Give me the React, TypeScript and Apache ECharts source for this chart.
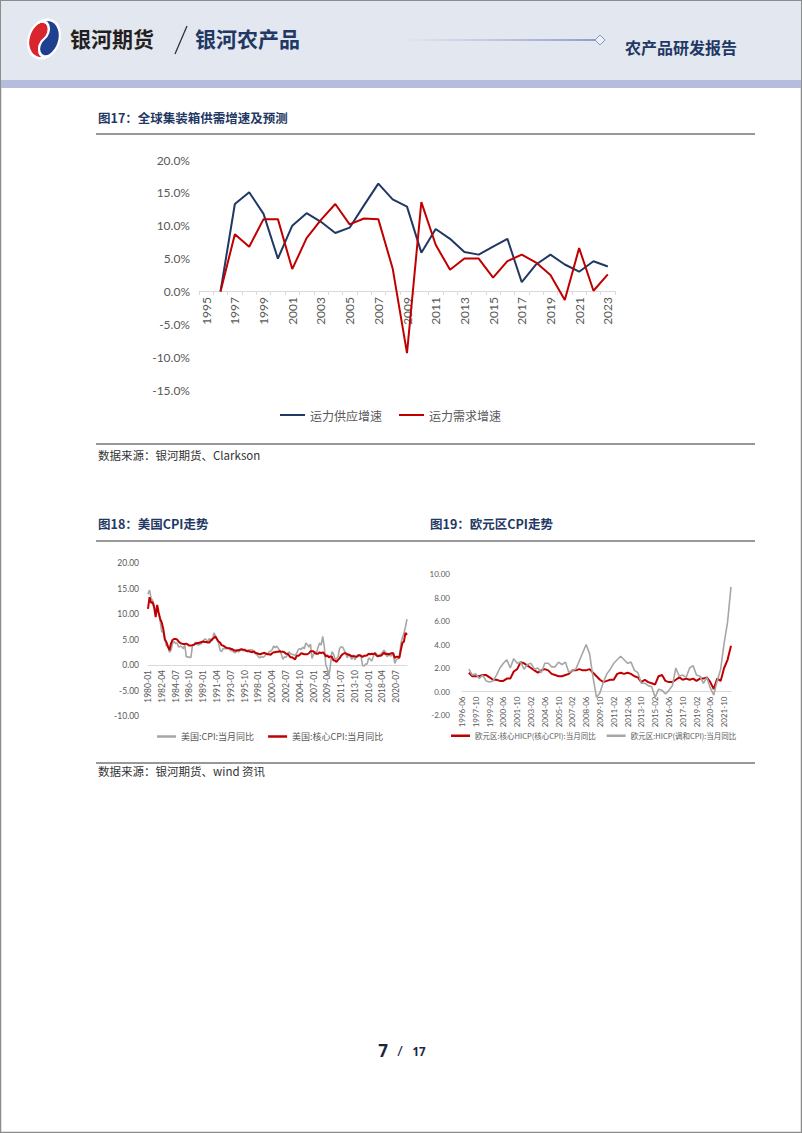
import React, { useEffect, useRef } from "react";
import * as echarts from "echarts";

// ---------- Figure 17: container capacity supply / demand growth (%) ----------
const shipYears = [
  "1995", "1996", "1997", "1998", "1999", "2000", "2001", "2002", "2003", "2004",
  "2005", "2006", "2007", "2008", "2009", "2010", "2011", "2012", "2013", "2014",
  "2015", "2016", "2017", "2018", "2019", "2020", "2021", "2022", "2023",
];
const capacitySupplyGrowth = [
  null, 0, 13.3, 15.1, 11.8, 5.0, 10.0, 11.9, 10.6, 8.9,
  9.7, 13.1, 16.4, 14.0, 12.9, 5.9, 9.5, 8.0, 6.0, 5.6,
  6.8, 8.0, 1.4, 4.1, 5.6, 4.1, 3.0, 4.6, 3.8,
];
const capacityDemandGrowth = [
  null, 0, 8.7, 6.8, 11.0, 11.0, 3.4, 8.1, 10.9, 13.3,
  10.2, 11.1, 11.0, 3.5, -9.4, 13.6, 7.1, 3.3, 5.0, 5.0,
  2.1, 4.6, 5.6, 4.4, 2.5, -1.3, 6.6, 0.1, 2.6,
];

// ---------- Figure 18: US CPI y/y (quarterly readings from 1980-01) ----------
const usCpi = [
  13.9, 14.7, 13.1, 12.6, 11.8, 10.0, 10.8, 10.1, 8.4, 6.5, 6.4, 5.1,
  3.7, 3.9, 2.5, 2.9, 4.2, 4.6, 4.2, 4.3, 3.5, 3.7, 3.6, 3.2,
  3.9, 1.6, 1.6, 1.5, 1.5, 3.8, 3.9, 4.5, 4.0, 3.9, 4.1, 4.2,
  4.7, 5.1, 5.0, 4.5, 5.2, 4.7, 4.8, 6.3, 5.7, 4.9, 4.4, 2.9,
  2.6, 3.2, 3.2, 3.2, 3.3, 3.2, 2.8, 2.8, 2.5, 2.4, 2.8, 2.6,
  2.8, 3.1, 2.8, 2.8, 2.7, 2.9, 3.0, 3.0, 3.0, 2.5, 2.2, 2.1,
  1.6, 1.4, 1.7, 1.5, 1.7, 2.3, 2.1, 2.6, 2.7, 3.0, 3.7, 3.4,
  3.7, 3.3, 2.7, 2.1, 1.1, 1.6, 1.5, 2.0, 2.6, 2.2, 2.1, 2.0,
  1.9, 2.3, 3.0, 3.2, 3.0, 3.5, 3.2, 4.3, 4.0, 3.5, 4.1, 1.3,
  2.1, 2.6, 2.4, 3.5, 4.3, 3.9, 5.6, 3.7, 0.0, -0.7, -2.1, -0.2,
  2.6, 2.2, 1.2, 1.2, 1.6, 3.2, 3.6, 3.5, 2.9, 2.3, 1.4, 2.2,
  1.6, 1.1, 2.0, 1.0, 1.6, 2.0, 2.0, 1.7, -0.1, -0.2, 0.2, 0.2,
  1.4, 1.1, 0.8, 1.6, 2.5, 2.2, 1.7, 2.0, 2.1, 2.5, 2.9, 2.5,
  1.6, 2.0, 1.8, 1.8, 2.5, 0.3, 1.0, 1.2, 1.4, 4.2, 5.4, 6.2,
  7.5, 9.0,
];
const usCoreCpi = [
  11.0, 13.3, 12.2, 12.3, 11.3, 9.4, 11.8, 10.2, 9.0, 8.3, 7.0, 5.0,
  4.5, 3.6, 2.9, 4.2, 4.9, 5.1, 5.1, 5.0, 4.6, 4.3, 4.2, 4.1,
  4.1, 4.2, 4.0, 3.8, 3.8, 3.9, 4.0, 4.2, 4.3, 4.3, 4.4, 4.5,
  4.6, 4.5, 4.5, 4.4, 4.4, 4.8, 5.1, 5.3, 5.6, 5.1, 4.6, 4.4,
  3.9, 3.8, 3.6, 3.4, 3.3, 3.3, 3.2, 3.1, 2.9, 2.8, 2.9, 2.9,
  3.0, 3.1, 3.0, 3.0, 2.8, 2.7, 2.7, 2.6, 2.5, 2.7, 2.4, 2.3,
  2.2, 2.1, 2.2, 2.3, 2.4, 2.2, 2.1, 2.1, 2.0, 2.3, 2.5, 2.5,
  2.6, 2.6, 2.7, 2.6, 2.6, 2.5, 2.2, 2.2, 1.9, 1.5, 1.5, 1.3,
  1.1, 1.8, 1.8, 2.0, 2.3, 2.2, 2.1, 2.1, 2.1, 2.3, 2.7, 2.7,
  2.7, 2.3, 2.2, 2.2, 2.5, 2.3, 2.5, 2.2, 1.7, 1.9, 1.5, 1.7,
  1.6, 0.9, 0.9, 0.6, 1.0, 1.3, 1.8, 2.1, 2.3, 2.3, 2.1, 2.0,
  1.9, 1.7, 1.7, 1.7, 1.6, 1.8, 1.9, 1.8, 1.6, 1.8, 1.8, 1.9,
  2.2, 2.1, 2.2, 2.1, 2.3, 1.9, 1.7, 1.8, 1.8, 2.1, 2.4, 2.1,
  2.2, 2.1, 2.2, 2.3, 2.3, 1.4, 1.6, 1.6, 1.4, 3.0, 4.3, 4.6,
  6.3, 5.9,
];
const usPeriods = usCpi.map(
  (_, i) => `${1980 + Math.floor(i / 4)}-${["01", "04", "07", "10"][i % 4]}`
);

// ---------- Figure 19: Euro area HICP y/y (4-monthly readings from 1996-06) ----------
const euCoreHicp = [
  null, null, 1.6, 1.3, 1.3, 1.3, 1.4, 1.4, 1.2, 1.0,
  1.0, 0.9, 0.9, 1.1, 1.1, 1.7, 1.9, 2.5, 2.4, 2.2,
  2.0, 1.8, 1.6, 1.8, 1.9, 1.8, 1.5, 1.4, 1.3, 1.3,
  1.4, 1.5, 1.8, 1.8, 1.9, 1.8, 1.8, 1.9, 1.6, 1.3,
  1.0, 0.8, 0.9, 1.0, 1.0, 1.5, 1.6, 1.5, 1.6, 1.5,
  1.3, 1.2, 0.8, 1.0, 0.8, 0.7, 0.6, 1.3, 1.4, 0.9,
  0.8, 0.8, 1.0, 1.2, 1.0, 1.1, 1.0, 1.1, 0.9, 1.1,
  1.1, 1.2, 0.8, 0.2, 1.1, 0.9, 2.0, 2.7, 3.9,
];
const euHicp = [
  null, null, 1.9, 1.4, 1.5, 1.1, 1.4, 0.9, 0.8, 0.9,
  1.4, 2.0, 2.4, 2.7, 2.0, 2.8, 2.4, 2.5, 1.9, 2.3,
  2.4, 1.9, 2.0, 1.6, 2.4, 2.4, 2.1, 2.1, 2.5, 2.3,
  2.5, 1.6, 1.8, 1.9, 2.6, 3.3, 4.0, 3.2, 1.2, -0.5,
  -0.1, 0.8, 1.5, 1.9, 2.4, 2.7, 3.0, 2.7, 2.4, 2.5,
  1.8, 1.6, 0.7, 0.7, 0.5, 0.4, -0.5, 0.2, 0.1, -0.2,
  0.1, 0.5, 2.0, 1.3, 1.4, 1.2, 2.0, 2.2, 1.4, 1.3,
  0.7, 1.2, 0.3, -0.3, 0.9, 1.9, 4.1, 5.9, 8.9,
];
const euPeriods = euHicp.map((_, i) => {
  const t = 1996 * 12 + 5 + i * 4;
  return `${Math.floor(t / 12)}-${String((t % 12) + 1).padStart(2, "0")}`;
});

const NAVY = "#1f3864";
const RED = "#c00000";
const GREY = "#a6a6a6";
const LABEL = "#595959";
const CJK = "'Noto Sans CJK SC', sans-serif";
const NUM = "Lato, 'Noto Sans CJK SC', sans-serif";

const RED_LOGO =
  "M0 -50 A50 50 0 0 0 0 50 A25 25 0 0 1 0 0 A25 25 0 0 0 0 -50 Z";
const BLUE_LOGO =
  "M0 -50 A50 50 0 0 1 0 50 A25 25 0 0 1 0 0 A25 25 0 0 0 0 -50 Z";

let registered = false;
function registerShapes() {
  if (registered) return;
  registered = true;
  echarts.graphic.registerShape("logoRed", echarts.graphic.extendPath(RED_LOGO, {}) as any);
  echarts.graphic.registerShape("logoBlue", echarts.graphic.extendPath(BLUE_LOGO, {}) as any);
}

function text(x: number, y: number, t: string, size: number, color: string, weight: any = "normal", family = CJK, align = "left") {
  return {
    type: "text",
    x,
    y,
    silent: true,
    style: {
      text: t,
      fontSize: size,
      fontWeight: weight,
      fontFamily: family,
      fill: color,
      align,
      verticalAlign: "middle",
    },
  };
}

function hline(y: number, x1 = 96, x2 = 755, color = "#333333", w = 1) {
  return {
    type: "line",
    silent: true,
    shape: { x1, y1: y, x2, y2: y },
    style: { stroke: color, lineWidth: w },
  };
}

const smallAxisLabel = { color: LABEL, fontSize: 8.5, fontFamily: NUM };

export default function App() {
  const ref = useRef<HTMLDivElement>(null);

  useEffect(() => {
    document.body.style.margin = "0";
    registerShapes();
    const chart = echarts.init(ref.current!, undefined, { renderer: "svg" });

    const graphicElements: any[] = [
      // page frame
      {
        type: "rect",
        silent: true,
        shape: { x: 0.5, y: 0.5, width: 801, height: 1132 },
        style: { fill: "none", stroke: "#8c8c8c", lineWidth: 1.5 },
      },
      // header background and band
      {
        type: "rect",
        silent: true,
        shape: { x: 1, y: 1, width: 800, height: 79 },
        style: { fill: "#e3e7f0" },
      },
      {
        type: "rect",
        silent: true,
        shape: { x: 1, y: 80, width: 800, height: 8 },
        style: { fill: "#b6bcdc" },
      },
      // logo
      {
        type: "group",
        x: 44,
        y: 39,
        rotation: -0.4,
        children: [
          {
            type: "group",
            scaleX: 0.3,
            scaleY: 0.4,
            children: [
              {
                type: "logoRed",
                rotation: 0.9,
                style: { fill: "#d9262e", stroke: "#ffffff", lineWidth: 7 },
              },
              {
                type: "logoBlue",
                rotation: 0.9,
                style: { fill: "#1f3f8f", stroke: "#ffffff", lineWidth: 7 },
              },
            ],
          },
        ],
      },
      text(70, 38, "银河期货", 21, "#231f20", "bold"),
      {
        type: "line",
        silent: true,
        shape: { x1: 187, y1: 26, x2: 175, y2: 54 },
        style: { stroke: "#333333", lineWidth: 1.3 },
      },
      text(195, 38, "银河农产品", 21, NAVY, "bold"),
      {
        type: "rect",
        silent: true,
        shape: { x: 400, y: 39.3, width: 196, height: 1.4 },
        style: {
          fill: new echarts.graphic.LinearGradient(0, 0, 1, 0, [
            { offset: 0, color: "rgba(140,150,200,0)" },
            { offset: 1, color: "rgba(120,132,190,1)" },
          ]),
        },
      },
      {
        type: "polygon",
        silent: true,
        shape: { points: [[600, 35], [605, 40], [600, 45], [595, 40]] },
        style: { fill: "#eef0f7", stroke: "#8a94c4", lineWidth: 1 },
      },
      text(625, 47, "农产品研发报告", 16, NAVY, "bold"),

      // figure 17
      text(98, 117, "图17：全球集装箱供需增速及预测", 12.5, NAVY, "bold"),
      hline(134),
      hline(444),
      text(98, 455, "数据来源：银河期货、Clarkson", 11.5, "#333333"),

      // figures 18 & 19
      text(98, 523, "图18：美国CPI走势", 12.5, NAVY, "bold"),
      text(430, 523, "图19：欧元区CPI走势", 12.5, NAVY, "bold"),
      hline(541),
      hline(763),
      text(98, 771, "数据来源：银河期货、wind 资讯", 11.5, "#333333"),

      // page number
      text(383, 1050, "7", 17, "#1a2540", "bold", "'Open Sans', sans-serif", "center"),
      text(400, 1050, "/", 15, "#1a2540", "normal", "'Open Sans', sans-serif", "center"),
      text(419, 1051, "17", 11.5, "#1a2540", "bold", "'Open Sans', sans-serif", "center"),
    ];

    const option: any = {
      animation: false,
      backgroundColor: "#ffffff",
      graphic: { elements: graphicElements },
      grid: [
        { left: 199, top: 160, width: 416, height: 230, containLabel: false },
        { left: 148, top: 563, width: 259, height: 153, containLabel: false },
        { left: 462, top: 574, width: 269, height: 141, containLabel: false },
      ],
      legend: [
        {
          data: ["运力供应增速", "运力需求增速"],
          left: 275,
          top: 404,
          icon: "rect",
          itemWidth: 25,
          itemHeight: 2,
          itemGap: 17,
          textStyle: { color: LABEL, fontSize: 12, fontFamily: CJK },
        },
        {
          data: ["美国:CPI:当月同比", "美国:核心CPI:当月同比"],
          left: 152,
          top: 727,
          icon: "rect",
          itemWidth: 19,
          itemHeight: 2.5,
          itemGap: 14,
          textStyle: { color: LABEL, fontSize: 9, fontFamily: CJK },
        },
        {
          data: ["欧元区:核心HICP(核心CPI):当月同比", "欧元区:HICP(调和CPI):当月同比"],
          left: 446,
          top: 727,
          icon: "rect",
          itemWidth: 19,
          itemHeight: 2.5,
          itemGap: 11,
          textStyle: { color: LABEL, fontSize: 7.5, fontFamily: CJK },
        },
      ],
      xAxis: [
        {
          gridIndex: 0,
          type: "category",
          data: shipYears,
          boundaryGap: true,
          offset: -99,
          axisLine: { onZero: false, lineStyle: { color: "#d9d9d9", width: 1 } },
          axisTick: { show: true, interval: 0, length: 4, lineStyle: { color: "#d9d9d9" } },
          axisLabel: { interval: 1, rotate: 90, margin: 6, color: LABEL, fontSize: 12, fontFamily: NUM },
          splitLine: { show: false },
        },
        {
          gridIndex: 1,
          type: "category",
          data: usPeriods,
          boundaryGap: false,
          offset: -51,
          axisLine: { onZero: false, lineStyle: { color: "#d9d9d9", width: 1 } },
          axisTick: { show: false },
          axisLabel: { ...smallAxisLabel, interval: 8, rotate: 90, margin: 5 },
          splitLine: { show: false },
        },
        {
          gridIndex: 2,
          type: "category",
          data: euPeriods,
          boundaryGap: false,
          offset: -23.5,
          axisLine: { onZero: false, lineStyle: { color: "#d9d9d9", width: 1 } },
          axisTick: { show: false },
          axisLabel: { ...smallAxisLabel, fontSize: 8, interval: 3, rotate: 90, margin: 5 },
          splitLine: { show: false },
        },
      ],
      yAxis: [
        {
          gridIndex: 0,
          type: "value",
          min: -15,
          max: 20,
          interval: 5,
          axisLine: { show: false },
          axisTick: { show: false },
          splitLine: { show: false },
          axisLabel: {
            color: LABEL,
            fontSize: 12,
            fontFamily: NUM,
            margin: 9,
            formatter: (v: number) => `${v.toFixed(1)}%`,
          },
        },
        {
          gridIndex: 1,
          type: "value",
          min: -10,
          max: 20,
          interval: 5,
          axisLine: { show: false },
          axisTick: { show: false },
          splitLine: { show: false },
          axisLabel: { ...smallAxisLabel, margin: 9, formatter: (v: number) => v.toFixed(2) },
        },
        {
          gridIndex: 2,
          type: "value",
          min: -2,
          max: 10,
          interval: 2,
          axisLine: { show: false },
          axisTick: { show: false },
          splitLine: { show: false },
          axisLabel: { ...smallAxisLabel, fontSize: 8, margin: 12, formatter: (v: number) => v.toFixed(2) },
        },
      ],
      series: [
        {
          name: "运力供应增速",
          type: "line",
          xAxisIndex: 0,
          yAxisIndex: 0,
          data: capacitySupplyGrowth,
          showSymbol: false,
          lineStyle: { color: NAVY, width: 2 },
          itemStyle: { color: NAVY },
        },
        {
          name: "运力需求增速",
          type: "line",
          xAxisIndex: 0,
          yAxisIndex: 0,
          data: capacityDemandGrowth,
          showSymbol: false,
          lineStyle: { color: RED, width: 2 },
          itemStyle: { color: RED },
        },
        {
          name: "美国:CPI:当月同比",
          type: "line",
          xAxisIndex: 1,
          yAxisIndex: 1,
          data: usCpi,
          showSymbol: false,
          lineStyle: { color: GREY, width: 1.6 },
          itemStyle: { color: GREY },
        },
        {
          name: "美国:核心CPI:当月同比",
          type: "line",
          xAxisIndex: 1,
          yAxisIndex: 1,
          data: usCoreCpi,
          showSymbol: false,
          lineStyle: { color: RED, width: 2 },
          itemStyle: { color: RED },
        },
        {
          name: "欧元区:核心HICP(核心CPI):当月同比",
          type: "line",
          xAxisIndex: 2,
          yAxisIndex: 2,
          data: euCoreHicp,
          showSymbol: false,
          lineStyle: { color: RED, width: 2 },
          itemStyle: { color: RED },
        },
        {
          name: "欧元区:HICP(调和CPI):当月同比",
          type: "line",
          xAxisIndex: 2,
          yAxisIndex: 2,
          data: euHicp,
          showSymbol: false,
          lineStyle: { color: GREY, width: 1.6 },
          itemStyle: { color: GREY },
        },
      ],
    };

    chart.setOption(option);
    return () => chart.dispose();
  }, []);

  return (
    <div
      ref={ref}
      style={{ position: "absolute", left: 0, top: 0, width: 802, height: 1133, background: "#ffffff" }}
    />
  );
}
